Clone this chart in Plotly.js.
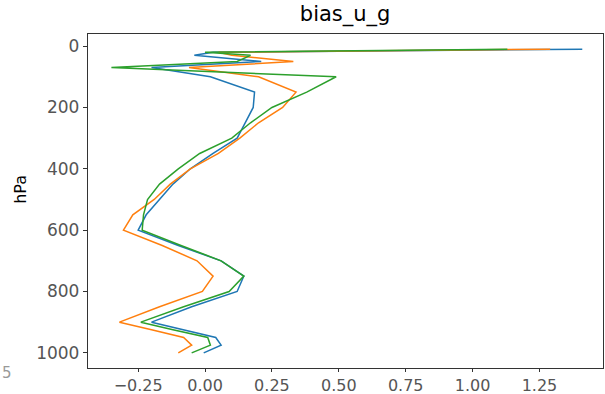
<!DOCTYPE html>
<html>
<head>
<meta charset="utf-8">
<script src="https://cdn.plot.ly/plotly-3.0.1.min.js"></script>
<style>
  html, body { margin: 0; padding: 0; background: #fff; }
  #chart { width: 605px; height: 394px; }
</style>
</head>
<body>
<div id="chart"></div>
<script>
// Pressure levels (hPa) of the vertical profile
const levels = [10, 20, 30, 50, 70, 100, 150, 200, 250, 300, 350, 400, 450, 500,
                550, 600, 650, 700, 750, 800, 850, 900, 925, 950, 975, 1000];

// Bias of u_g for each run, one value per level
const biasBlue   = [1.41, 0.03, -0.04, 0.21, -0.20, 0.02, 0.185, 0.18, 0.15, 0.12, 0.03, -0.055, -0.12, -0.17,
                    -0.22, -0.25, -0.10, 0.06, 0.145, 0.12, -0.05, -0.20, -0.08, 0.04, 0.06, -0.005];
const biasOrange = [1.29, 0.05, 0.10, 0.33, -0.06, 0.20, 0.34, 0.29, 0.20, 0.13, 0.05, -0.055, -0.13, -0.19,
                    -0.27, -0.305, -0.16, -0.03, 0.03, -0.01, -0.17, -0.32, -0.20, -0.08, -0.05, -0.10];
const biasGreen  = [1.13, 0.00, 0.17, 0.12, -0.35, 0.49, 0.38, 0.25, 0.17, 0.10, -0.02, -0.10, -0.17, -0.215,
                    -0.23, -0.235, -0.09, 0.06, 0.145, 0.09, -0.08, -0.24, -0.12, 0.01, 0.02, -0.05];

const xTicks = [-0.25, 0, 0.25, 0.5, 0.75, 1.0, 1.25];
const yTicks = [0, 200, 400, 600, 800, 1000];

const seriesColors = ['#1f77b4', '#ff7f0e', '#2ca02c'];
const series = [biasBlue, biasOrange, biasGreen];

const traces = series.map((vals, i) => ({
  type: 'scatter',
  mode: 'lines',
  x: vals,
  y: levels,
  line: { color: seriesColors[i], width: 1.5 },
  hoverinfo: 'skip',
  showlegend: false
}));

const layout = {
  width: 605,
  height: 394,
  margin: { l: 88, r: 2, t: 34, b: 26, pad: 0 },
  paper_bgcolor: '#ffffff',
  plot_bgcolor: '#ffffff',
  font: { family: 'DejaVu Sans', color: '#000000' },
  title: {
    text: 'bias_u_g',
    font: { family: 'DejaVu Sans', size: 21, color: '#000000' },
    x: 0.5705, xanchor: 'center',
    yref: 'container', y: 0.985, yanchor: 'top'
  },
  xaxis: {
    range: [-0.4375, 1.4875],
    tickvals: xTicks,
    tickformat: '.2f',
    ticks: 'outside', ticklen: 3, tickcolor: '#333333',
    showgrid: false, zeroline: false,
    showline: true, mirror: true, linecolor: '#333333', linewidth: 1.2,
    tickfont: { family: 'DejaVu Sans', size: 16, color: '#555555' }
  },
  yaxis: {
    range: [1049.5, -39.5],
    tickvals: yTicks,
    ticks: 'outside', ticklen: 4, tickcolor: '#333333',
    showgrid: false, zeroline: false,
    showline: true, mirror: true, linecolor: '#333333', linewidth: 1.2,
    tickfont: { family: 'DejaVu Sans', size: 17, color: '#555555' }
  },
  annotations: [
    {
      // y-axis label, set slightly above the axis middle
      text: 'hPa', xref: 'paper', yref: 'paper', x: -0.131, y: 0.535,
      xanchor: 'center', yanchor: 'middle', textangle: -90, showarrow: false,
      font: { family: 'DejaVu Sans', size: 16, color: '#000000' }
    },
    {
      text: '5', xref: 'paper', yref: 'paper', x: -0.170, y: -0.015,
      xanchor: 'left', yanchor: 'middle', showarrow: false,
      font: { family: 'DejaVu Sans', size: 15, color: '#999999' }
    }
  ]
};

Plotly.newPlot('chart', traces, layout, { staticPlot: true, displayModeBar: false });
</script>
</body>
</html>
